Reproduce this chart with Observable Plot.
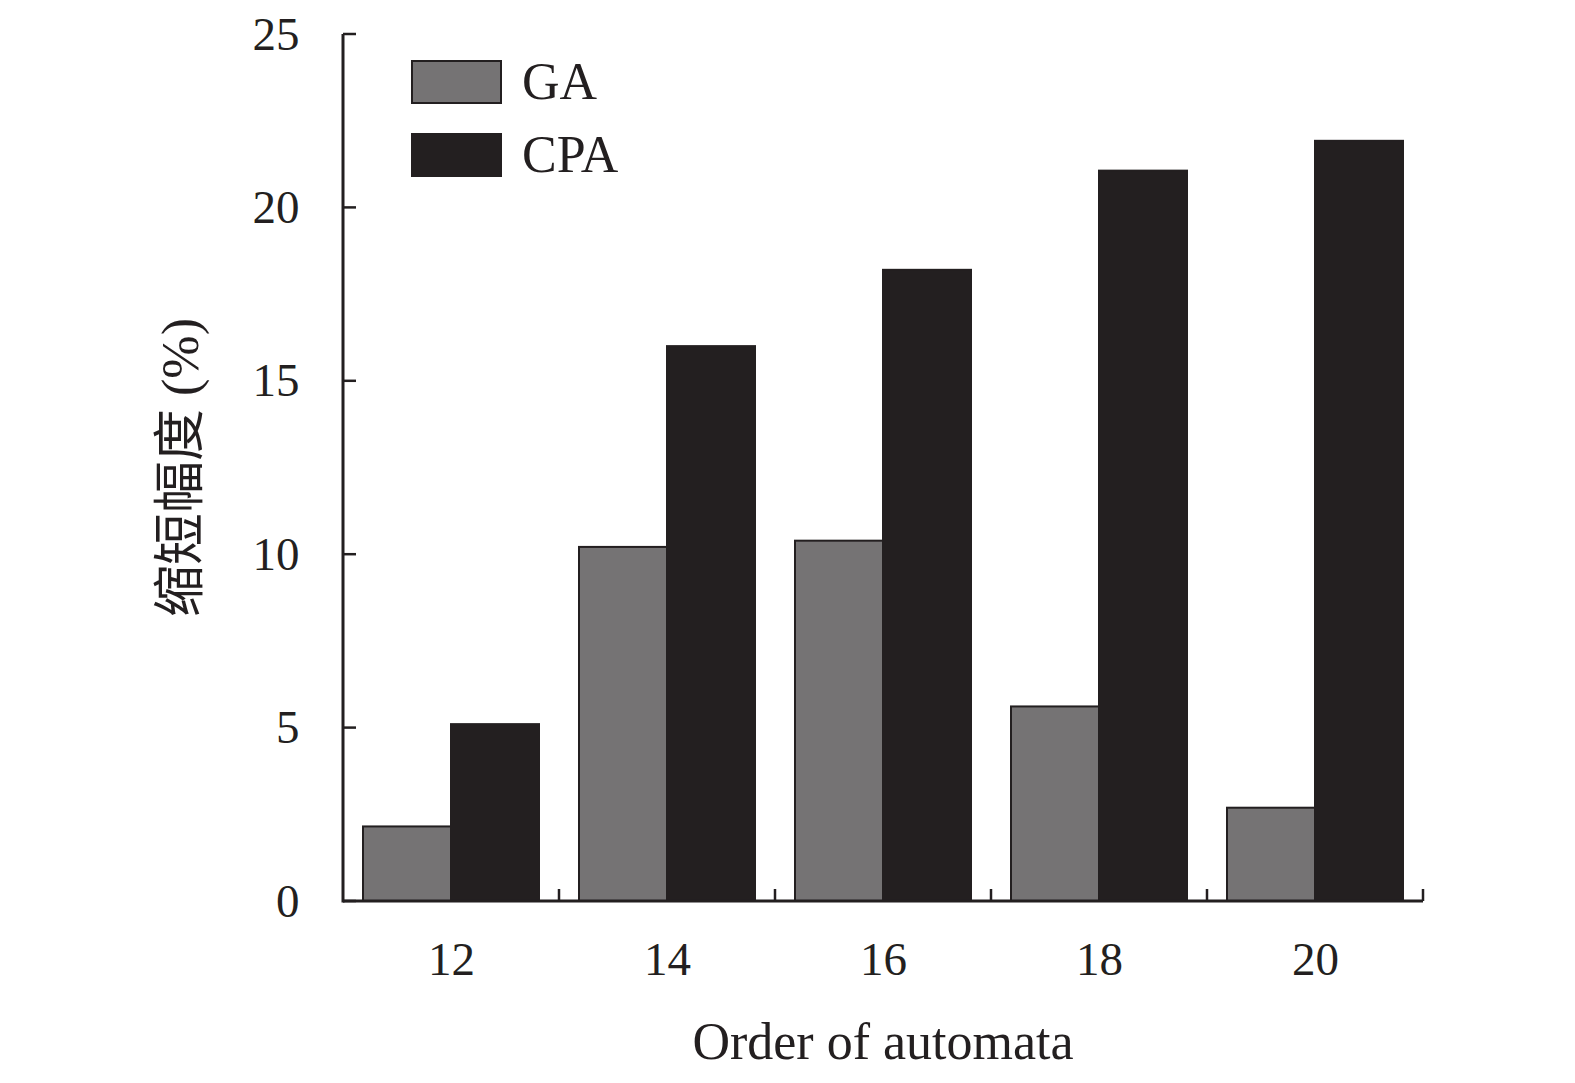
<!DOCTYPE html>
<html><head><meta charset="utf-8">
<script src="https://cdn.jsdelivr.net/npm/d3@7"></script>
<script src="https://cdn.jsdelivr.net/npm/@observablehq/plot@0.6"></script>
<style>
html,body{margin:0;background:#fff;overflow:hidden;}
#wrap{position:relative;width:1575px;height:1083px;font-family:"Liberation Serif","Noto Sans CJK SC",serif;}
#wrap svg{display:block;max-width:none !important;}
.leg{position:absolute;left:411px;display:flex;align-items:center;}
.sw{width:87px;height:40px;border:2px solid #231f20;box-sizing:content-box;}
.lt{margin-left:20px;font-size:52px;color:#231f20;line-height:1;}
</style></head>
<body><div id="wrap"></div>
<script>
const orders = [12, 14, 16, 18, 20];
const seriesNames = ["GA", "CPA"];
const gaValues = [2.15, 10.21, 10.39, 5.61, 2.69];
const cpaValues = [5.1, 16.0, 18.2, 21.06, 21.92];
const yTicks = [0, 5, 10, 15, 20, 25];
const seriesColors = ["#757374", "#231f20"];

const data = [];
orders.forEach((o, i) => {
  data.push({order: o, series: "GA", value: gaValues[i]});
  data.push({order: o, series: "CPA", value: cpaValues[i]});
});

const font = '"Liberation Serif","Noto Sans CJK SC",serif';
const plot = Plot.plot({
  width: 1575, height: 1083,
  marginLeft: 342, marginRight: 152, marginTop: 34, marginBottom: 182,
  facet: {marginTop: 0, marginBottom: 0, marginLeft: 0, marginRight: 0},
  style: {fontFamily: font, fontSize: "47px", color: "#231f20", background: "#fff"},
  fx: {domain: orders, padding: 0},
  x: {domain: seriesNames, paddingInner: 0, paddingOuter: 0.225, axis: null},
  y: {domain: [0, 25]},
  color: {domain: seriesNames, range: seriesColors},
  marks: [
    Plot.barY(data, {fx: "order", x: "series", y: "value", fill: "series", stroke: "#231f20", strokeWidth: 2}),
    Plot.axisY(yTicks, {tickSize: 0, tickPadding: 44, label: null, fill: "#231f20"}),
    Plot.axisFx({anchor: "bottom", tickSize: 0, tickPadding: 40, label: null, fill: "#231f20"})
  ]
});
document.getElementById("wrap").appendChild(plot);

// axis lines, inward ticks and titles from the plot's own scales
const fx = plot.scale("fx"), y = plot.scale("y");
const svg = d3.select(plot);
const g = svg.append("g").attr("stroke", "#231f20").attr("fill", "none");
const x0 = fx.apply(orders[0]);
const x1 = fx.apply(orders[orders.length - 1]) + fx.bandwidth;
g.append("line").attr("x1", x0).attr("x2", x0).attr("y1", y.apply(0) + 1.5).attr("y2", y.apply(25)).attr("stroke-width", 3);
g.append("line").attr("x1", x0).attr("x2", x1).attr("y1", y.apply(0)).attr("y2", y.apply(0)).attr("stroke-width", 3);
yTicks.forEach(t => g.append("line").attr("x1", x0).attr("x2", x0 + 13).attr("y1", y.apply(t)).attr("y2", y.apply(t)).attr("stroke-width", 2.5));
orders.forEach(o => {
  const xe = fx.apply(o) + fx.bandwidth;
  g.append("line").attr("x1", xe).attr("x2", xe).attr("y1", y.apply(0)).attr("y2", y.apply(0) - 12).attr("stroke-width", 2.5);
});
svg.append("text").attr("x", (x0 + x1) / 2).attr("y", y.apply(0) + 158)
  .attr("text-anchor", "middle").attr("fill", "#231f20").attr("font-size", 52)
  .text("Order of automata");
svg.append("text").attr("transform", `translate(${x0 - 145},${(y.apply(0) + y.apply(25)) / 2}) rotate(-90)`)
  .attr("text-anchor", "middle").attr("fill", "#231f20").attr("font-size", 52)
  .text("缩短幅度 (%)");

// legend
const wrap = document.getElementById("wrap");
seriesNames.forEach((s, i) => {
  const d = document.createElement("div");
  d.className = "leg";
  d.style.top = (56 + i * 73) + "px";
  d.innerHTML = `<div class="sw" style="background:${seriesColors[i]}"></div><div class="lt">${s}</div>`;
  wrap.appendChild(d);
});
</script></body></html>
